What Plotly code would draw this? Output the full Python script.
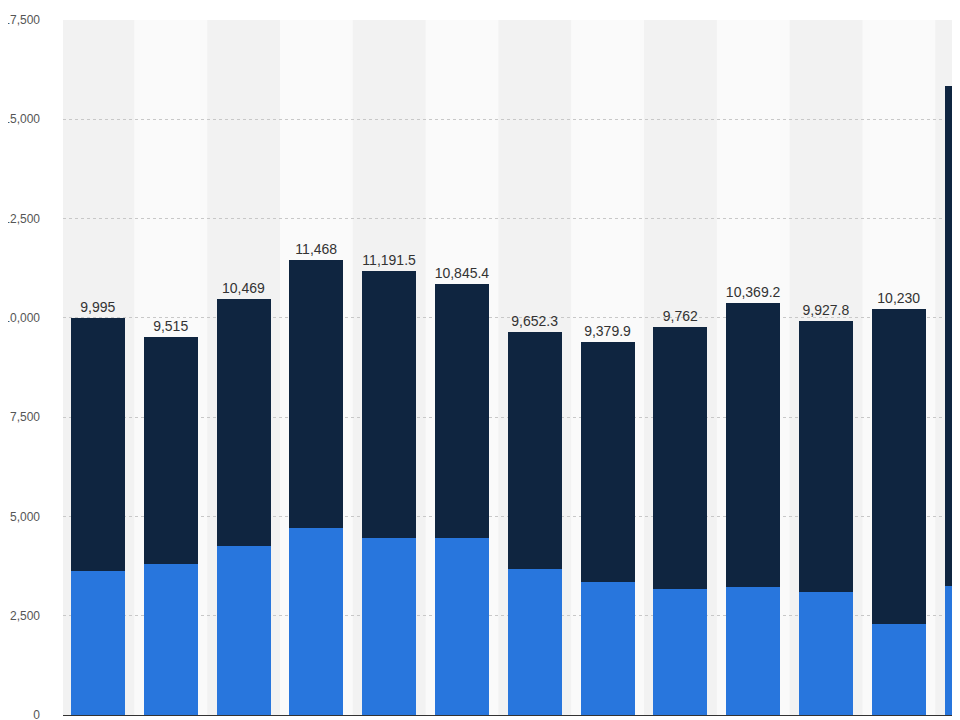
import plotly.graph_objects as go

# Gesamtwerte (Labels) und unterer Anteil (blau)
totals = [9995, 9515, 10469, 11468, 11191.5, 10845.4, 9652.3, 9379.9, 9762, 10369.2, 9927.8, 10230, 15836]
labels = ["9,995", "9,515", "10,469", "11,468", "11,191.5", "10,845.4", "9,652.3",
          "9,379.9", "9,762", "10,369.2", "9,927.8", "10,230", "15,836"]
blue = [3625, 3800, 4255, 4710, 4456, 4456, 3676, 3348, 3172, 3222, 3097, 2291, 3248]
dark = [t - b for t, b in zip(totals, blue)]
x = list(range(len(totals)))

fig = go.Figure()
fig.add_trace(go.Bar(x=x, y=blue, marker_color="#2876dd", width=0.74, marker_line_width=0))
fig.add_trace(go.Bar(x=x, y=dark, marker_color="#0f2540", width=0.74, marker_line_width=0,
                     text=labels, textposition="outside", constraintext="none",
                     textfont=dict(size=14, color="#333333"), cliponaxis=False))

# helle Spalten im Hintergrund
for i in x:
    if i % 2 == 1:
        fig.add_shape(type="rect", xref="x", yref="paper", x0=i - 0.5, x1=i + 0.5, y0=0, y1=1,
                      fillcolor="#fafafa", line_width=0, layer="below")

fig.update_layout(
    barmode="stack",
    width=960, height=720,
    margin=dict(l=55, r=0, t=12, b=13, autoexpand=False),
    paper_bgcolor="white",
    plot_bgcolor="#f2f2f2",
    showlegend=False,
    font=dict(family="Liberation Sans, Arial", color="#333333"),
)
fig.update_xaxes(range=[-0.48, 11.95], showticklabels=False, showgrid=False, automargin=False,
                 showline=True, linecolor="#333333", linewidth=1, zeroline=False)
fig.update_yaxes(range=[0, 17500], tickvals=[0, 2500, 5000, 7500, 10000, 12500, 15000, 17500],
                 tickformat=",", showgrid=True, gridcolor="#c8c8c8", griddash="dot", automargin=False,
                 zeroline=False, ticklabelstandoff=22, tickfont=dict(size=12, color="#555555"))

fig.write_html("out.html")
